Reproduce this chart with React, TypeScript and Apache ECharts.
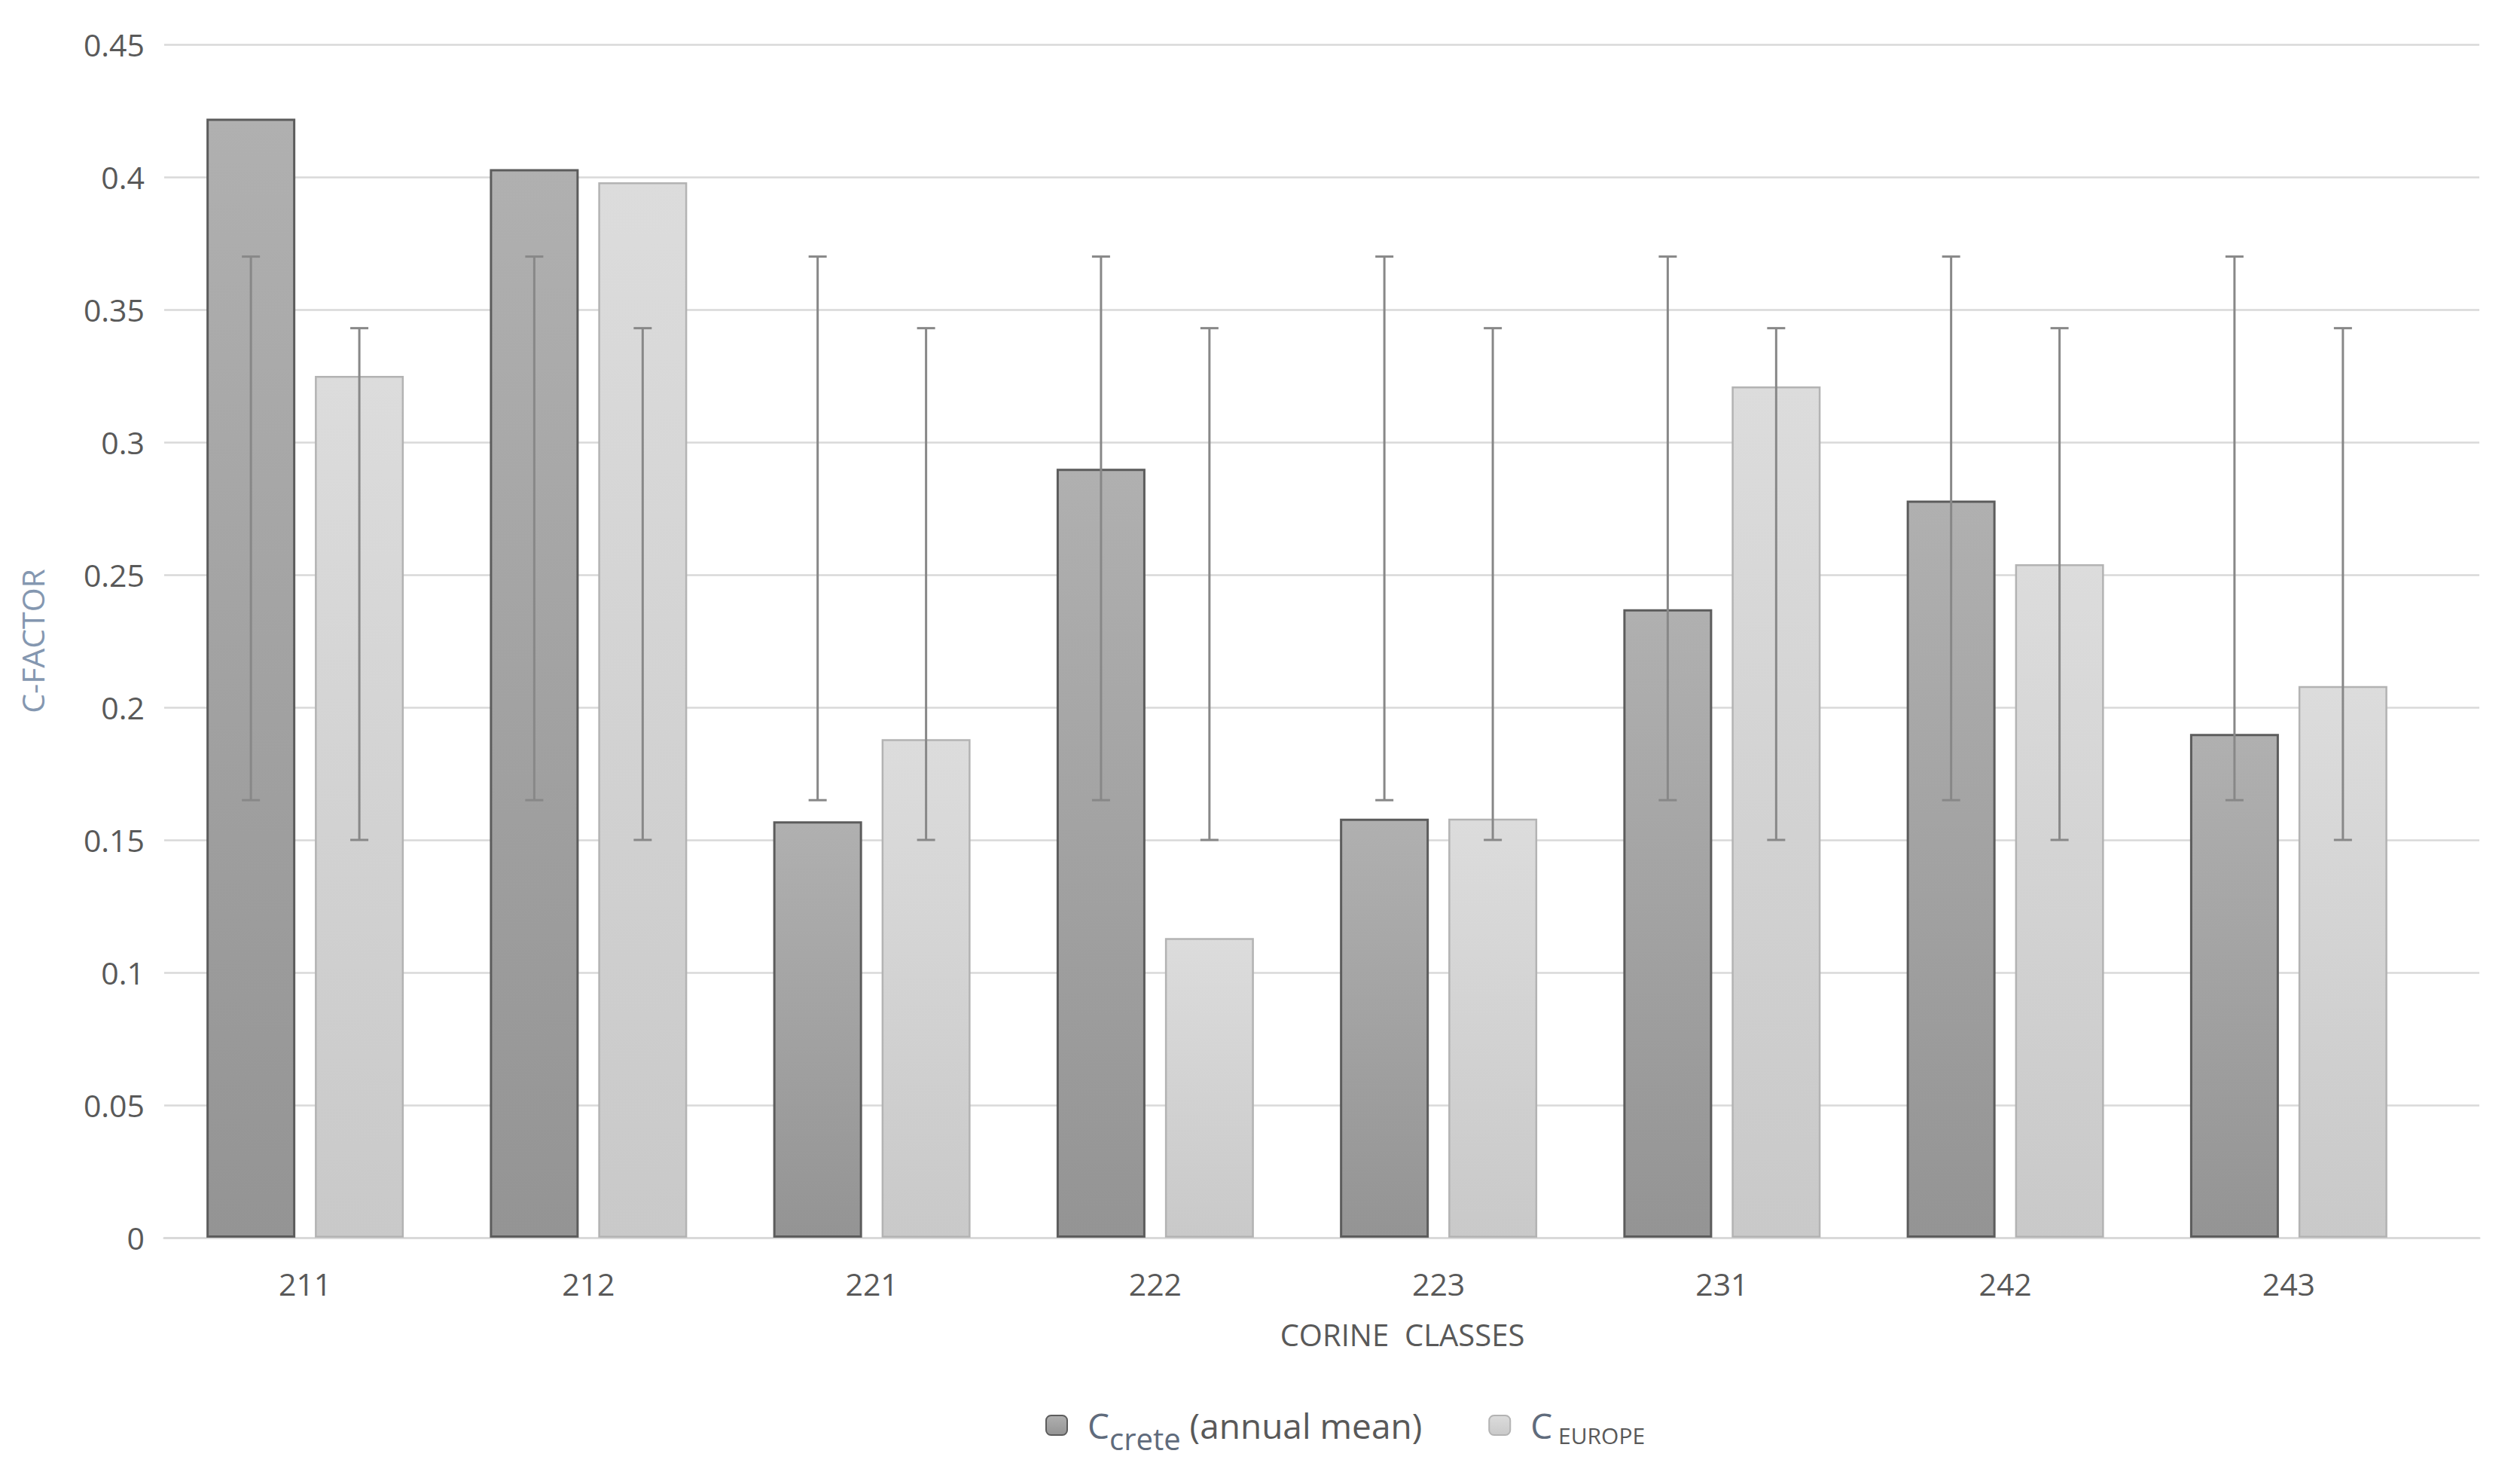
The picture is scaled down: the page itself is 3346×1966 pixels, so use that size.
import React, { useEffect, useRef } from 'react';
import * as echarts from 'echarts';

const categories = ['211', '212', '221', '222', '223', '231', '242', '243'];
const creteValues = [0.422, 0.403, 0.157, 0.29, 0.158, 0.237, 0.278, 0.19];
const europeValues = [0.325, 0.398, 0.188, 0.113, 0.158, 0.321, 0.254, 0.208];
const creteErrLow = [0.165, 0.165, 0.165, 0.165, 0.165, 0.165, 0.165, 0.165];
const creteErrHigh = [0.37, 0.37, 0.37, 0.37, 0.37, 0.37, 0.37, 0.37];
const europeErrLow = [0.15, 0.15, 0.15, 0.15, 0.15, 0.15, 0.15, 0.15];
const europeErrHigh = [0.343, 0.343, 0.343, 0.343, 0.343, 0.343, 0.343, 0.343];
const yMin = 0;
const yMax = 0.45;
const yInterval = 0.05;

const BAR_W = 118;
const BAR_GAP = 0.22;
const FONT = '"Open Sans", "Noto Sans", sans-serif';
const TEXT = '#595959';

function errorSeries(name: string, low: number[], high: number[], offset: number) {
  return {
    type: 'custom',
    name,
    silent: true,
    z: 10,
    xAxisIndex: 0,
    yAxisIndex: 0,
    encode: { x: 0, y: [1, 2] },
    data: categories.map((_, i) => [i, low[i], high[i]]),
    renderItem: (params: any, api: any) => {
      const idx = api.value(0);
      const x = api.coord([idx, 0])[0] + offset;
      const yLo = api.coord([idx, api.value(1)])[1];
      const yHi = api.coord([idx, api.value(2)])[1];
      const style = { stroke: '#888888', lineWidth: 3 };
      const cap = 12;
      return {
        type: 'group',
        children: [
          { type: 'line', shape: { x1: x, y1: yLo, x2: x, y2: yHi }, style },
          { type: 'line', shape: { x1: x - cap, y1: yHi, x2: x + cap, y2: yHi }, style },
          { type: 'line', shape: { x1: x - cap, y1: yLo, x2: x + cap, y2: yLo }, style },
        ],
      };
    },
  };
}

export default function App() {
  const ref = useRef<HTMLDivElement>(null);
  useEffect(() => {
    document.body.style.margin = '0';
    document.body.style.overflow = 'hidden';
    if (!ref.current) return;
    const chart = echarts.init(ref.current, undefined, { renderer: 'svg' });
    const off = (BAR_W * (1 + BAR_GAP)) / 2;
    const darkGrad = new echarts.graphic.LinearGradient(0, 0, 0, 1, [
      { offset: 0, color: '#b0b0b0' },
      { offset: 1, color: '#949494' },
    ]);
    const lightGrad = new echarts.graphic.LinearGradient(0, 0, 0, 1, [
      { offset: 0, color: '#dcdcdc' },
      { offset: 1, color: '#c9c9c9' },
    ]);
    chart.setOption({
      animation: false,
      backgroundColor: '#ffffff',
      textStyle: { fontFamily: FONT },
      grid: [
        { left: 217, right: 119, top: 59, bottom: 323, containLabel: false },
        { left: 218, right: 54, top: 59, bottom: 323, containLabel: false },
      ],
      legend: {
        left: 1383,
        top: 1864,
        itemWidth: 28,
        itemHeight: 26,
        itemGap: 88,
        data: ['Crete', 'Europe'],
        formatter: (name: string) =>
          name === 'Crete'
            ? '{c0|C}{sub|crete}{c| (annual mean)}'
            : '{c0|C}{sc| EUROPE}',
        textStyle: {
          color: TEXT,
          fontFamily: FONT,
          rich: {
            c0: { fontSize: 46, lineHeight: 100, verticalAlign: 'middle', color: '#5f6b7c', padding: [0, 0, 0, 22], fontFamily: FONT },
            c: { fontSize: 46, lineHeight: 100, verticalAlign: 'middle', color: TEXT, fontFamily: FONT },
            sub: { fontSize: 40, verticalAlign: 'bottom', color: '#5f6b7c', padding: [0, 0, 13, 0], fontFamily: FONT },
            sc: { fontSize: 30, verticalAlign: 'bottom', color: TEXT, padding: [0, 0, 22, 0], fontFamily: FONT },
          },
        },
      },
      xAxis: [
        {
          type: 'category',
          gridIndex: 0,
          data: categories,
          name: 'CORINE  CLASSES',
          nameLocation: 'middle',
          nameGap: 108,
          nameTextStyle: { fontSize: 40, color: TEXT, fontFamily: FONT, padding: [0, 0, 0, 280] },
          axisLine: { show: false },
          axisTick: { show: false },
          axisLabel: { fontSize: 41, color: TEXT, margin: 40, fontFamily: FONT },
        },
        {
          type: 'category',
          gridIndex: 1,
          data: categories,
          axisLine: { show: true, lineStyle: { color: '#d9d9d9', width: 3 } },
          axisTick: { show: false },
          axisLabel: { show: false },
        },
      ],
      yAxis: [
        {
          type: 'value',
          gridIndex: 0,
          min: yMin,
          max: yMax,
          interval: yInterval,
          name: 'C-FACTOR',
          nameLocation: 'middle',
          nameGap: 154,
          nameTextStyle: { fontSize: 41, color: '#8497b0', fontFamily: FONT },
          axisLine: { show: false },
          axisTick: { show: false },
          axisLabel: { fontSize: 41, color: TEXT, margin: 25, fontFamily: FONT },
          splitLine: { show: false },
        },
        {
          type: 'value',
          gridIndex: 1,
          min: yMin,
          max: yMax,
          interval: yInterval,
          axisLine: { show: false },
          axisTick: { show: false },
          axisLabel: { show: false },
          splitLine: { lineStyle: { color: '#d9d9d9', width: 2.5 } },
        },
      ],
      series: [
        {
          type: 'bar',
          name: 'Crete',
          xAxisIndex: 0,
          yAxisIndex: 0,
          data: creteValues,
          barWidth: BAR_W,
          barGap: BAR_GAP * 100 + '%',
          itemStyle: { color: darkGrad, borderColor: '#5c5c5c', borderWidth: 3 },
          z: 2,
        },
        {
          type: 'bar',
          name: 'Europe',
          xAxisIndex: 0,
          yAxisIndex: 0,
          data: europeValues,
          barWidth: BAR_W,
          barGap: BAR_GAP * 100 + '%',
          itemStyle: { color: lightGrad, borderColor: '#b3b3b3', borderWidth: 2.5 },
          z: 2,
        },
        errorSeries('CreteErr', creteErrLow, creteErrHigh, -off),
        errorSeries('EuropeErr', europeErrLow, europeErrHigh, off),
      ],
    });
    return () => chart.dispose();
  }, []);
  return <div ref={ref} style={{ width: 3346, height: 1966 }} />;
}
